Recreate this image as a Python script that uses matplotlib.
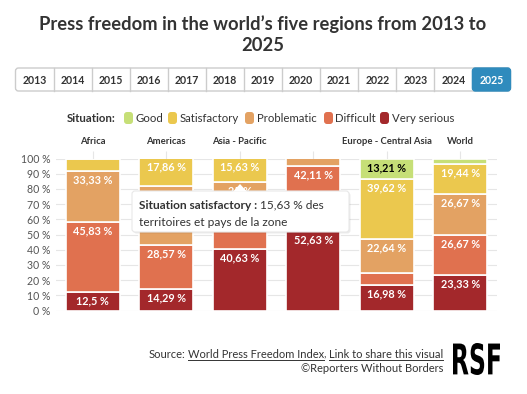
import numpy as np
import matplotlib.pyplot as plt
from matplotlib.patches import FancyBboxPatch, Polygon, PathPatch
from matplotlib.textpath import TextPath
from matplotlib.font_manager import FontProperties
from matplotlib.transforms import Affine2D

plt.rcParams['font.family'] = ['Lato', 'DejaVu Sans']

# data (2025)
regions = ['Africa', 'Americas', 'Asia - Pacific', '', 'Europe - Central Asia', 'World']
situations = ['Good', 'Satisfactory', 'Problematic', 'Difficult', 'Very serious']
very_serious = [12.5, 14.29, 40.63, 52.63, 16.98, 23.33]
difficult = [45.83, 28.57, 18.75, 42.11, 7.55, 26.67]
problematic = [33.33, 39.29, 25.0, 5.26, 22.64, 26.67]
satisfactory = [8.34, 17.86, 15.63, 0.0, 39.62, 19.44]
good = [0.0, 0.0, 0.0, 0.0, 13.21, 3.89]
years = [str(y) for y in range(2013, 2026)]
y_ticks = list(range(0, 101, 10))

colors = {'Good': '#c6df77', 'Satisfactory': '#ebc84e', 'Problematic': '#e3a263',
          'Difficult': '#e0714f', 'Very serious': '#a3282b'}
dark = '#333333'

W, H = 527, 394
fig = plt.figure(figsize=(W / 100, H / 100), dpi=100)


def fx(px):
    return px / W


def fy(py):
    return 1 - py / H


# tooltip box (pixels)
tx0, tx1, ty0, ty1 = 132, 349, 191, 232

# main chart
left, right, top, bottom = 56, 497, 158.5, 310.5
ax = fig.add_axes([fx(left), fy(bottom), fx(right - left), (bottom - top) / H])
x = np.arange(len(regions))
stack = [('Very serious', very_serious), ('Difficult', difficult),
         ('Problematic', problematic), ('Satisfactory', satisfactory), ('Good', good)]
px_per_unit = (bottom - top) / 100
base = np.zeros(len(regions))
for name, vals in stack:
    vals = np.array(vals)
    ax.bar(x, vals, bottom=base, width=0.74, color=colors[name],
           edgecolor='white', linewidth=1.2, zorder=2)
    for i, v in enumerate(vals):
        if v >= 10:
            ytop = base[i] + v - 2.2
            # label position in pixels; skip labels fully hidden by the tooltip
            lab_px_y = bottom - ytop * px_per_unit + 5
            lab_px_x = left + (i + 0.5) * (right - left) / len(regions)
            if tx0 < lab_px_x < tx1 and ty0 + 4 < lab_px_y < ty1:
                continue
            lab = f"{v:.2f}".rstrip('0').rstrip('.').replace('.', ',') + ' %'
            ax.text(x[i], ytop, lab, ha='center', va='top',
                    fontsize=7.8, fontweight='bold',
                    color='black' if name == 'Good' else 'white', zorder=3)
    base += vals

ax.set_xlim(-0.5, len(regions) - 0.5)
ax.set_ylim(0, 100)
ax.set_yticks(y_ticks)
ax.set_yticklabels([f"{t} %" for t in y_ticks], fontsize=7.6, color='#555555')
ax.tick_params(axis='y', length=0, pad=4)
ax.yaxis.grid(True, color='#e6e6e6', linewidth=0.8, zorder=0)
ax.set_axisbelow(True)
ax.xaxis.tick_top()
ax.set_xticks(x)
ax.set_xticklabels(regions, fontsize=6.8, fontweight='bold', color=dark)
ax.tick_params(axis='x', length=6, color='#e6e6e6', pad=3)
for s in ax.spines.values():
    s.set_visible(False)

# overlay in pixel coordinates
ov = fig.add_axes([0, 0, 1, 1], zorder=5)
ov.set_xlim(0, W)
ov.set_ylim(H, 0)
ov.axis('off')
ov.patch.set_visible(False)

ov.text(263, 24, "Press freedom in the world\u2019s five regions from 2013 to",
        ha='center', va='center', fontsize=13.2, fontweight='bold', color=dark)
ov.text(263, 45, "2025", ha='center', va='center', fontsize=13.2,
        fontweight='bold', color=dark)

# year buttons
bx0, bx1, by0, by1 = 15.5, 510.5, 68, 91
bw = (bx1 - bx0) / len(years)
ov.add_patch(FancyBboxPatch((bx0, by0), bx1 - bx0, by1 - by0,
                            boxstyle='round,pad=0,rounding_size=3',
                            fc='white', ec='#cccccc', lw=1))
for i, yr in enumerate(years):
    xs = bx0 + i * bw
    if yr == '2025':
        ov.add_patch(FancyBboxPatch((xs, by0), bw, by1 - by0,
                                    boxstyle='round,pad=0,rounding_size=3',
                                    fc='#2f8bbd', ec='#2f8bbd', lw=1))
        col = 'white'
    else:
        col = dark
        if i > 0:
            ov.plot([xs, xs], [by0, by1], color='#cccccc', lw=1)
    ov.text(xs + bw / 2, (by0 + by1) / 2 + 0.5, yr, ha='center', va='center',
            fontsize=7.6, fontweight='bold', color=col)

# legend
ly = 118
ov.text(67, ly, 'Situation:', ha='left', va='center', fontsize=8.2,
        fontweight='bold', color=dark)
leg_x = [124, 168, 245, 324, 380]
for lx, name in zip(leg_x, situations):
    ov.add_patch(FancyBboxPatch((lx, ly - 6), 9, 12,
                                boxstyle='round,pad=0,rounding_size=3',
                                fc=colors[name], ec='none'))
    ov.text(lx + 11.5, ly, name, ha='left', va='center', fontsize=8.2, color=dark)

# tooltip
ov.add_patch(FancyBboxPatch((tx0 + 1.5, ty0 + 1.5), tx1 - tx0, ty1 - ty0,
                            boxstyle='round,pad=0,rounding_size=3',
                            fc='#000000', ec='none', alpha=0.08))
ov.add_patch(FancyBboxPatch((tx0, ty0), tx1 - tx0, ty1 - ty0,
                            boxstyle='round,pad=0,rounding_size=3',
                            fc='white', ec='#e8e8e8', lw=0.8))
ov.add_patch(Polygon([[233, ty0 + 0.6], [240, 184], [247, ty0 + 0.6]],
                     closed=True, fc='white', ec='none'))
t1 = ov.text(139, 205, 'Situation satisfactory :', ha='left', va='center',
             fontsize=8.6, fontweight='bold', color=dark)
fig.canvas.draw()
bb = t1.get_window_extent().transformed(ov.transData.inverted())
ov.text(bb.x1 + 2.5, 205, '15,63 % des', ha='left', va='center',
        fontsize=8.6, color=dark)
ov.text(139, 222, 'territoires et pays de la zone', ha='left', va='center',
        fontsize=8.6, color=dark)

# footer
src_right = 443
fs_foot = 8.0
t_link2 = ov.text(src_right, 354, 'Link to share this visual', ha='right',
                  va='center', fontsize=fs_foot, color=dark)
fig.canvas.draw()
b2 = t_link2.get_window_extent().transformed(ov.transData.inverted())
t_comma = ov.text(b2.x0 - 2.5, 354, ',', ha='right', va='center', fontsize=fs_foot, color=dark)
fig.canvas.draw()
bc = t_comma.get_window_extent().transformed(ov.transData.inverted())
t_link1 = ov.text(bc.x0, 354, 'World Press Freedom Index', ha='right',
                  va='center', fontsize=fs_foot, color=dark)
fig.canvas.draw()
b1 = t_link1.get_window_extent().transformed(ov.transData.inverted())
ov.text(b1.x0 - 2.5, 354, 'Source:', ha='right', va='center', fontsize=fs_foot, color=dark)
for bb_ in (b1, b2):
    ov.plot([bb_.x0, bb_.x1], [360, 360], color=dark, lw=0.7)
ov.text(src_right, 369, '\u00a9Reporters Without Borders', ha='right', va='center',
        fontsize=fs_foot, color=dark)

# RSF logo
tp = TextPath((0, 0), 'RSF', size=10, prop=FontProperties(family='DejaVu Sans', weight='bold'))
ext = tp.get_extents()
lx0, lx1, ly0, ly1 = 453, 500, 343, 375
tr = (Affine2D().translate(-ext.x0, -ext.y0)
      .scale((lx1 - lx0) / ext.width, -(ly1 - ly0) / ext.height)
      .translate(lx0, ly1))
ov.add_patch(PathPatch(tr.transform_path(tp), fc='black', ec='none'))

fig.savefig('out.png', dpi=100)
